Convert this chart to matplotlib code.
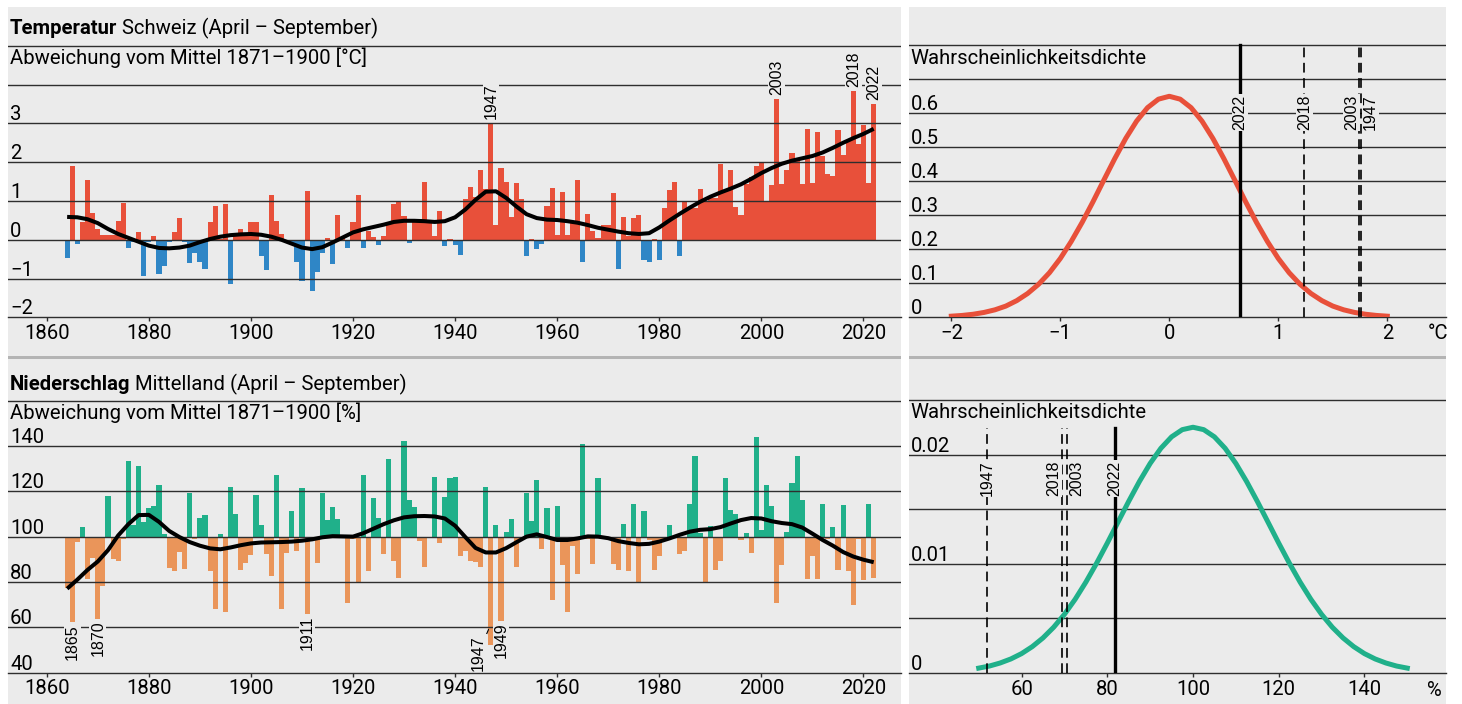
import numpy as np
import matplotlib
matplotlib.use('Agg')
import matplotlib.pyplot as plt
import matplotlib.font_manager as fm
from matplotlib.patches import Rectangle

# ---- data ----
years = np.arange(1864, 2023)
temp = [-0.46, 1.89, -0.12, 0.45, 1.53, 0.68,                               # 1864-1869
        0.28, 0.13, 0.13, 0.13, 0.49, 0.94, -0.22, -0.05, 0.21, -0.93,      # 1870s
        -0.05, 0.10, -0.87, -0.67, -0.05, 0.21, 0.57, -0.06, -0.61, -0.34,  # 1880s
        -0.58, -0.74, 0.47, 0.88, 0.03, 0.93, -1.15, 0.17, 0.28, 0.10,      # 1890s
        0.45, 0.47, -0.41, -0.78, 1.16, 0.49, 0.15, -0.05, -0.10, -0.58,    # 1900s
        -1.07, 1.26, -1.33, -0.82, -0.33, 0.05, -0.63, 0.64, 0.05, -0.22,   # 1910s
        0.47, 1.16, -0.22, 0.23, 0.08, -0.14, 0.10, 0.45, 0.93, 0.99,       # 1920s
        0.62, -0.09, 0.54, 0.54, 1.50, 0.49, 0.10, 0.75, -0.17, 0.03,       # 1930s
        -0.14, -0.40, 1.06, 1.37, 1.10, 1.81, 1.31, 3.01, 0.39, 1.86,       # 1940s
        1.50, 0.59, 1.47, 1.06, -0.41, 0.02, -0.25, -0.12, 0.88, 1.34,      # 1950s
        0.13, 1.24, 0.13, 0.49, 1.55, -0.58, 0.67, 0.23, 0.05, 0.39,        # 1960s
        0.39, 1.21, -0.76, 0.59, 0.10, 0.57, 0.64, -0.51, -0.58, 0.02,      # 1970s
        -0.51, 0.83, 1.29, 1.50, -0.41, 0.98, 0.85, 0.83, 1.32, 1.00,       # 1980s
        1.08, 1.08, 1.96, 1.26, 1.81, 0.85, 0.64, 1.44, 1.62, 1.91,         # 1990s
        1.98, 1.00, 1.42, 3.63, 1.44, 1.81, 2.24, 2.11, 1.44, 2.86,         # 2000s
        1.47, 2.79, 2.17, 1.70, 1.65, 2.82, 2.19, 2.58, 3.84, 2.48,         # 2010s
        2.97, 1.47, 3.50]                                                   # 2020-2022
prec = [77.5, 62.1, 97.4, 104.4, 81.5, 90.4,                                # 1864-1869
        63.8, 78.0, 117.9, 90.3, 89.4, 99.0, 133.5, 105.3, 131.2, 106.6,
        112.6, 113.7, 122.8, 101.2, 86.3, 84.6, 93.2, 85.9, 119.3, 99.0,
        108.2, 109.6, 84.6, 67.9, 101.2, 66.9, 121.9, 110.0, 85.4, 88.5,
        91.8, 118.4, 105.1, 92.2, 82.4, 127.2, 67.9, 92.6, 111.3, 93.8,
        121.5, 65.7, 98.5, 88.5, 119.3, 107.4, 113.1, 107.8, 99.5, 70.9,
        99.0, 80.0, 127.2, 85.0, 117.2, 108.2, 92.2, 134.4, 89.4, 81.9,
        142.4, 116.2, 113.2, 98.2, 86.8, 99.5, 126.3, 97.1, 117.6, 126.0,
        126.3, 91.6, 93.8, 89.3, 89.0, 86.8, 121.9, 52.2, 105.1, 62.9,
        102.1, 107.8, 86.8, 98.5, 119.3, 106.9, 125.0, 94.7, 112.6, 72.2,
        113.5, 87.6, 66.5, 95.9, 83.7, 140.9, 99.0, 88.1, 125.9, 99.5,
        99.0, 88.1, 85.4, 105.6, 84.6, 114.4, 79.3, 111.3, 98.5, 85.4,
        91.6, 98.5, 105.1, 99.5, 92.5, 93.7, 114.4, 135.6, 101.5, 80.1,
        104.7, 85.4, 89.3, 125.9, 111.8, 110.0, 98.7, 101.6, 92.6, 144.0,
        102.9, 122.8, 113.5, 70.9, 87.6, 102.1, 123.7, 135.6, 116.2, 81.5,
        91.6, 81.5, 114.4, 99.0, 104.3, 85.4, 114.0, 85.0, 69.6, 99.0,
        81.0, 114.4, 81.9]

smooth_years = np.arange(1864, 2023, 2)
temp_smooth = [0.59, 0.58, 0.53, 0.43, 0.28, 0.15, 0.05, -0.05, -0.15, -0.21,
               -0.22, -0.20, -0.15, -0.06, 0.02, 0.08, 0.12, 0.14, 0.15, 0.13,
               0.08, 0.00, -0.10, -0.20, -0.24, -0.19, -0.07, 0.06, 0.19, 0.27,
               0.33, 0.39, 0.46, 0.49, 0.49, 0.48, 0.46, 0.48, 0.58, 0.78,
               1.03, 1.24, 1.25, 1.08, 0.86, 0.66, 0.56, 0.52, 0.51, 0.48,
               0.44, 0.38, 0.31, 0.26, 0.21, 0.17, 0.15, 0.17, 0.32, 0.50,
               0.67, 0.83, 0.98, 1.11, 1.22, 1.32, 1.43, 1.57, 1.72, 1.85,
               1.96, 2.04, 2.10, 2.16, 2.25, 2.37, 2.50, 2.62, 2.73, 2.86]
prec_smooth = [77.0, 81.0, 85.3, 89.0, 94.0, 100.5, 105.5, 109.5, 109.6, 106.5,
               102.5, 99.8, 97.6, 96.0, 94.8, 94.4, 95.2, 96.2, 97.0, 97.4,
               97.5, 97.6, 97.8, 98.2, 98.8, 99.7, 100.2, 100.1, 100.0, 101.5,
               103.5, 105.5, 107.2, 108.5, 109.0, 109.1, 108.9, 108.0, 104.8, 99.8,
               95.0, 93.0, 93.0, 94.9, 97.5, 100.0, 101.0, 99.8, 98.5, 98.5,
               99.2, 100.1, 100.0, 99.3, 98.0, 97.2, 96.6, 96.8, 97.8, 99.2,
               100.8, 102.2, 103.0, 103.3, 104.2, 105.8, 107.3, 108.2, 108.0, 106.8,
               106.0, 105.5, 104.0, 101.3, 98.5, 96.0, 93.2, 91.2, 89.8, 88.7]

temp_marked = [1947, 2003, 2018, 2022]
prec_marked = [1865, 1870, 1911, 1949]

pdf_t_x = np.round(np.arange(-2.0, 2.01, 0.1), 1)
pdf_t_y = [0.0033, 0.0055, 0.0090, 0.0143, 0.022, 0.033, 0.049, 0.070, 0.097, 0.131,
           0.173, 0.223, 0.279, 0.340, 0.404, 0.467, 0.526, 0.577, 0.6165, 0.6415,
           0.650,
           0.6415, 0.6165, 0.577, 0.526, 0.467, 0.404, 0.340, 0.279, 0.223, 0.173,
           0.131, 0.097, 0.070, 0.049, 0.033, 0.022, 0.0143, 0.0090, 0.0055, 0.0033]
pdf_p_x = np.arange(50, 150.1, 2.5)
pdf_p_y = [0.00042, 0.00061, 0.00089, 0.00126, 0.00175, 0.00239, 0.00319, 0.00417,
           0.00535, 0.00673, 0.00830, 0.01003, 0.01188, 0.01380, 0.01571, 0.01753,
           0.01918, 0.02057, 0.02162, 0.02228, 0.02250,
           0.02228, 0.02162, 0.02057, 0.01918, 0.01753, 0.01571, 0.01380, 0.01188,
           0.01003, 0.00830, 0.00673, 0.00535, 0.00417, 0.00319, 0.00239, 0.00175,
           0.00126, 0.00089, 0.00061, 0.00042]

t_lines = [('2022', 0.65, '-'), ('2018', 1.24, '--'), ('2003', 1.745, '--'), ('1947', 1.76, '--')]
p_lines = [('1947', 52.0, '--'), ('2018', 69.5, '--'), ('2003', 70.6, '--'), ('2022', 81.85, '-')]

# ---- style ----
RED = '#e8503a'
BLUE = '#2f86c6'
GREEN = '#20b08a'
ORANGE = '#ea955a'
BG = '#ebebeb'
LINE = '#2e2e2e'
SEP = '#b4b4b4'

names = {f.name for f in fm.fontManager.ttflist}
MAIN = 'Liberation Sans Narrow' if 'Liberation Sans Narrow' in names else 'Roboto'
SMALL = ['Liberation Sans', 'DejaVu Sans']
plt.rcParams['font.family'] = [MAIN, 'DejaVu Sans']
plt.rcParams['lines.scale_dashes'] = False
FS = 16 if MAIN == 'Liberation Sans Narrow' else 14.6
FSS = 11.5

W, H = 1462, 704
fig = plt.figure(figsize=(W / 100, H / 100), dpi=100)


def box(x0, y0, x1, y1):
    return [x0 / W, 1 - y1 / H, (x1 - x0) / W, (y1 - y0) / H]


def ptext(x, y, s, **kw):
    return fig.text(x / W, 1 - y / H, s, **kw)


# panel backgrounds and separators
for x0, y0, x1, y1 in [(7.5, 7, 900.5, 704), (908.5, 7, 1445.7, 704)]:
    fig.patches.append(Rectangle((x0 / W, 1 - y1 / H), (x1 - x0) / W, (y1 - y0) / H,
                                 transform=fig.transFigure, facecolor=BG, edgecolor='none', zorder=-10))
    fig.patches.append(Rectangle((x0 / W, 1 - 359.3 / H), (x1 - x0) / W, 3 / H,
                                 transform=fig.transFigure, facecolor=SEP, edgecolor='none', zorder=-9))


def setup(ax, xlim, ylim, grid, xt, xtl, yt, ytl, dx):
    ax.set_xlim(xlim)
    ax.set_ylim(ylim)
    ax.set_facecolor('none')
    for s in ['top', 'right', 'left']:
        ax.spines[s].set_visible(False)
    ax.spines['bottom'].set_color(LINE)
    ax.spines['bottom'].set_linewidth(1.0)
    ax.spines['bottom'].set_zorder(2.5)
    for g in grid:
        ax.axhline(g, color=LINE, lw=1.0, zorder=2)
    ax.set_xticks(xt)
    ax.set_xticklabels(xtl)
    ax.tick_params(axis='x', direction='out', length=3, width=1.0, color=LINE, pad=2, labelsize=FS)
    ax.tick_params(axis='y', left=False, labelleft=False)
    for v, s in zip(yt, ytl):
        ax.annotate(s, xy=(0, v), xycoords=('axes fraction', 'data'), xytext=(dx, 3),
                    textcoords='offset pixels', ha='left', va='baseline', fontsize=FS,
                    annotation_clip=False)


# ---- temperature bars ----
axT = fig.add_axes(box(7.5, 7, 900.5, 317.4))
setup(axT, (1852.32, 2027.25), (-2, 6), [-1, 0, 1, 2, 3, 4, 5],
      range(1860, 2021, 20), [str(y) for y in range(1860, 2021, 20)],
      [3, 2, 1, 0, -1, -2], ['3', '2', '1', '0', '\u22121', '\u22122'], 2.5)
axT.bar(years, temp, width=1.0, color=[RED if v >= 0 else BLUE for v in temp], linewidth=0, zorder=1)
axT.plot(smooth_years, temp_smooth, color='black', lw=2.9, zorder=3, solid_capstyle='butt')
for yr in temp_marked:
    axT.annotate(str(yr), xy=(yr, temp[yr - 1864]), xytext=(0, 4), textcoords='offset pixels',
                 rotation=90, ha='center', va='bottom', fontsize=FSS, family=SMALL, zorder=5,
                 bbox=dict(facecolor=BG, edgecolor='none', pad=0.6))

# ---- precipitation bars ----
axP = fig.add_axes(box(7.5, 359.5, 900.5, 672.5))
setup(axP, (1852.32, 2027.25), (40, 178.2), [60, 80, 100, 120, 140, 160],
      range(1860, 2021, 20), [str(y) for y in range(1860, 2021, 20)],
      [140, 120, 100, 80, 60, 40], ['140', '120', '100', '80', '60', '40'], 2.5)
axP.bar(years, np.array(prec) - 100, bottom=100, width=1.0,
        color=[GREEN if v >= 100 else ORANGE for v in prec], linewidth=0, zorder=1)
axP.plot(smooth_years, prec_smooth, color='black', lw=2.9, zorder=3, solid_capstyle='butt')
for yr in prec_marked:
    axP.annotate(str(yr), xy=(yr, prec[yr - 1864]), xytext=(0, -1.5), textcoords='offset pixels',
                 rotation=90, ha='center', va='top', fontsize=FSS, family=SMALL, zorder=5,
                 bbox=dict(facecolor=BG, edgecolor='none', pad=0.6))
axP.annotate('1947', xy=(1946.55, 59), xytext=(-10, -23.6), textcoords='offset pixels',
             rotation=90, ha='center', va='center', fontsize=FSS, family=SMALL, zorder=5,
             bbox=dict(facecolor=BG, edgecolor='none', pad=0.6),
             arrowprops=dict(arrowstyle='-', color='black', lw=0.8, shrinkA=0, shrinkB=0))

# ---- temperature density ----
axTR = fig.add_axes(box(908.5, 7, 1445.7, 317.3))
setup(axTR, (-2.393, 2.536), (0, 0.9126), [0.1, 0.2, 0.3, 0.4, 0.5, 0.6, 0.7, 0.8],
      [-2, -1, 0, 1, 2], ['\u22122', '\u22121', '0', '1', '2'],
      [0.6, 0.5, 0.4, 0.3, 0.2, 0.1, 0], ['0.6', '0.5', '0.4', '0.3', '0.2', '0.1', '0'], 2)
axTR.plot(pdf_t_x, pdf_t_y, color=RED, lw=3.6, zorder=3)
t_dx = {'2003': -7.8, '1947': 9.6}
for name, x, ls in t_lines:
    if ls == '-':
        axTR.plot([x, x], [0, 0.8], color='black', lw=2.4, zorder=4)
    else:
        axTR.plot([x, x], [0, 0.8], color='black', lw=1.2, dashes=(7, 4), zorder=4)
for name, x, ls in t_lines:
    axTR.annotate(name, xy=(x, 0.602), xytext=(t_dx.get(name, 0), 0), textcoords='offset pixels',
                  rotation=90, ha='center', va='center', fontsize=FSS, family=SMALL, zorder=5,
                  bbox=dict(facecolor=BG, edgecolor='none', pad=0.6))
axTR.annotate('\u00b0C', xy=(1, 0), xycoords='axes fraction', xytext=(-8, -16),
              textcoords='offset pixels', ha='center', va='center', fontsize=FS)

# ---- precipitation density ----
axBR = fig.add_axes(box(908.5, 359.5, 1445.7, 672.7))
setup(axBR, (33.62, 158.96), (0, 0.02871), [0.005, 0.01, 0.015, 0.02, 0.025],
      [60, 80, 100, 120, 140], ['60', '80', '100', '120', '140'],
      [0.02, 0.01, 0], ['0.02', '0.01', '0'], 2)
axBR.plot(pdf_p_x, pdf_p_y, color=GREEN, lw=3.6, zorder=3)
p_dx = {'2018': -8.4, '2003': 9.7}
for name, x, ls in p_lines:
    if ls == '-':
        axBR.plot([x, x], [0, 0.0224], color='black', lw=2.4, zorder=4)
    else:
        axBR.plot([x, x], [0, 0.0224], color='black', lw=1.2, dashes=(7, 4), zorder=4)
for name, x, ls in p_lines:
    axBR.annotate(name, xy=(x, 0.01782), xytext=(p_dx.get(name, 0), 0), textcoords='offset pixels',
                  rotation=90, ha='center', va='center', fontsize=FSS, family=SMALL, zorder=5,
                  bbox=dict(facecolor=BG, edgecolor='none', pad=0.6))
axBR.annotate('%', xy=(1, 0), xycoords='axes fraction', xytext=(-11, -17.5),
              textcoords='offset pixels', ha='center', va='center', fontsize=FS)

# ---- titles ----
renderer = fig.canvas.get_renderer()
for y, bold, rest in [(28, 'Temperatur', ' Schweiz (April \u2013 September)'),
                      (384, 'Niederschlag', ' Mittelland (April \u2013 September)')]:
    t = ptext(10, y, bold, weight='bold', va='center', fontsize=FS)
    bb = t.get_window_extent(renderer)
    fig.text(bb.x1 / W, 1 - y / H, rest, va='center', fontsize=FS)
ptext(10, 58, 'Abweichung vom Mittel 1871\u20131900 [\u00b0C]', va='center', fontsize=FS)
ptext(10, 413, 'Abweichung vom Mittel 1871\u20131900 [%]', va='center', fontsize=FS)
ptext(910, 58, 'Wahrscheinlichkeitsdichte', va='center', fontsize=FS)
ptext(910, 413, 'Wahrscheinlichkeitsdichte', va='center', fontsize=FS)

fig.savefig('out.png', dpi=100, facecolor='white')
